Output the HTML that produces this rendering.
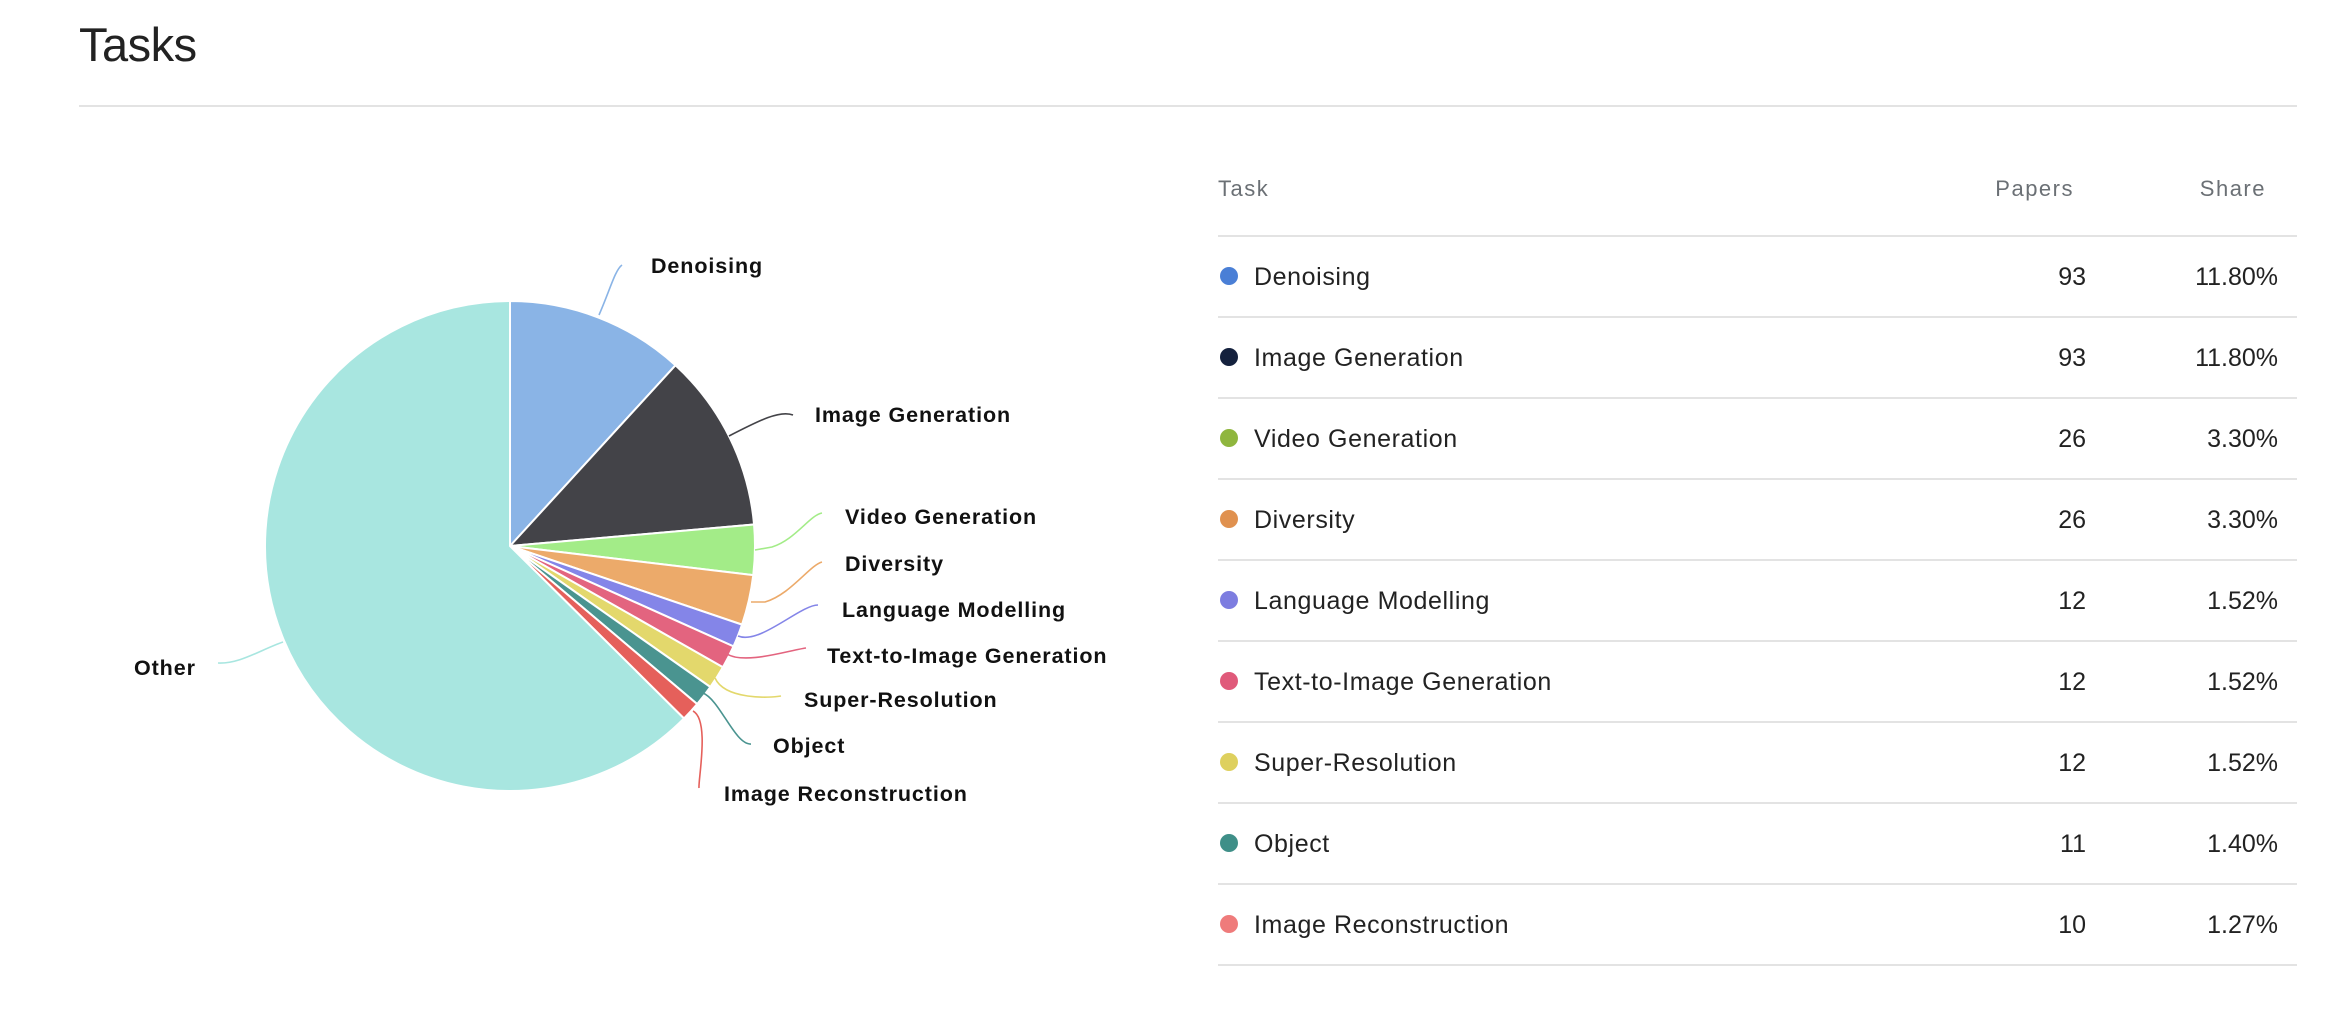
<!DOCTYPE html>
<html><head><meta charset="utf-8"><style>
html,body{margin:0;padding:0;background:#fff;width:2332px;height:1010px;overflow:hidden}
body{font-family:"Liberation Sans",sans-serif}
</style></head><body>
<svg width="2332" height="1010" viewBox="0 0 2332 1010" xmlns="http://www.w3.org/2000/svg" style="position:absolute;left:0;top:0">
<text x="79" y="61" font-size="47" fill="#222" font-family="Liberation Sans" letter-spacing="-0.5">Tasks</text>
<rect x="79" y="105" width="2218" height="2" fill="#e3e3e3"/>
<g id="pie"></g>
<g fill="none" stroke-width="1.6">
<path d="M599 315 C610 290,615 270,622 265" stroke="#8ab4e6"/>
<path d="M729 436 C760 420,780 410,793 415" stroke="#434348"/>
<path d="M755 550 L772 547 C795 540,810 515,822 513" stroke="#a3ec88"/>
<path d="M751 602 L765 602 C790 595,810 565,822 562" stroke="#ecaa6a"/>
<path d="M738 636 C760 645,800 605,818 605" stroke="#8485e8"/>
<path d="M727 654 C745 665,790 650,806 648" stroke="#e3647f"/>
<path d="M715 678 C725 700,770 698,781 696" stroke="#e3d86c"/>
<path d="M703 693 C720 700,735 745,751 744" stroke="#4a9490"/>
<path d="M693 711 C710 720,698 780,699 788" stroke="#e5605b"/>
<path d="M218 663 C240 664,260 650,283 642" stroke="#a8e6e0"/>
</g>
<g font-family="Liberation Sans" font-weight="bold" font-size="21.5" fill="#111" letter-spacing="0.9">
<text x="651" y="273">Denoising</text>
<text x="815" y="422">Image Generation</text>
<text x="845" y="524">Video Generation</text>
<text x="845" y="571">Diversity</text>
<text x="842" y="617">Language Modelling</text>
<text x="827" y="663">Text-to-Image Generation</text>
<text x="804" y="707">Super-Resolution</text>
<text x="773" y="753">Object</text>
<text x="724" y="801">Image Reconstruction</text>
<text x="134" y="675">Other</text>
</g>
<g font-family="Liberation Sans" font-size="22" fill="#6b7075" letter-spacing="1.5">
<text x="1218" y="196">Task</text>
<text x="2074" y="196" text-anchor="end">Papers</text>
<text x="2266" y="196" text-anchor="end">Share</text>
</g>
<g id="rows"></g>
</svg>
<script>
var NS="http://www.w3.org/2000/svg";
var data=[["Denoising",11.8,"#8ab4e6"],["Image Generation",11.8,"#434348"],["Video Generation",3.3,"#a3ec88"],["Diversity",3.3,"#ecaa6a"],["Language Modelling",1.52,"#8485e8"],["Text-to-Image Generation",1.52,"#e3647f"],["Super-Resolution",1.52,"#e3d86c"],["Object",1.40,"#4a9490"],["Image Reconstruction",1.27,"#e5605b"]];
var tot=0;data.forEach(function(d){tot+=d[1]});
var slices=data.concat([["Other",100-tot,"#a8e6e0"]]);
var cx=510,cy=546,r=245,a=0,g=document.getElementById("pie");
slices.forEach(function(s){
 var a2=a+s[1]/100*2*Math.PI;
 var x1=cx+r*Math.sin(a),y1=cy-r*Math.cos(a),x2=cx+r*Math.sin(a2),y2=cy-r*Math.cos(a2);
 var p=document.createElementNS(NS,"path");
 p.setAttribute("d","M"+cx+" "+cy+"L"+x1+" "+y1+"A"+r+" "+r+" 0 "+((a2-a)>Math.PI?1:0)+" 1 "+x2+" "+y2+"Z");
 p.setAttribute("fill",s[2]);p.setAttribute("stroke","#fff");p.setAttribute("stroke-width","2");
 g.appendChild(p);a=a2;
});
var rows=[["Denoising","93","11.80%","#4a7fd6"],["Image Generation","93","11.80%","#14213d"],["Video Generation","26","3.30%","#8fb63e"],["Diversity","26","3.30%","#e0914f"],["Language Modelling","12","1.52%","#7d7de0"],["Text-to-Image Generation","12","1.52%","#e05a7a"],["Super-Resolution","12","1.52%","#ded05e"],["Object","11","1.40%","#3f8f88"],["Image Reconstruction","10","1.27%","#ef7b7b"]];
var rg=document.getElementById("rows");
function el(t,at,txt){var e=document.createElementNS(NS,t);for(var k in at)e.setAttribute(k,at[k]);if(txt)e.textContent=txt;rg.appendChild(e);return e;}
el("rect",{x:1218,y:235,width:1079,height:2,fill:"#e3e3e3"});
rows.forEach(function(rw,i){
 var top=236+i*81,cyy=top+41;
 el("circle",{cx:1229,cy:cyy-1,r:9,fill:rw[3]});
 var f={"font-family":"Liberation Sans","font-size":"25",fill:"#222"};
 el("text",Object.assign({x:1254,y:cyy+8,"letter-spacing":"0.6"},f),rw[0]);
 el("text",Object.assign({x:2086,y:cyy+8,"text-anchor":"end"},f),rw[1]);
 el("text",Object.assign({x:2278,y:cyy+8,"text-anchor":"end"},f),rw[2]);
 el("rect",{x:1218,y:top+80,width:1079,height:2,fill:"#e3e3e3"});
});
</script>
</body></html>
